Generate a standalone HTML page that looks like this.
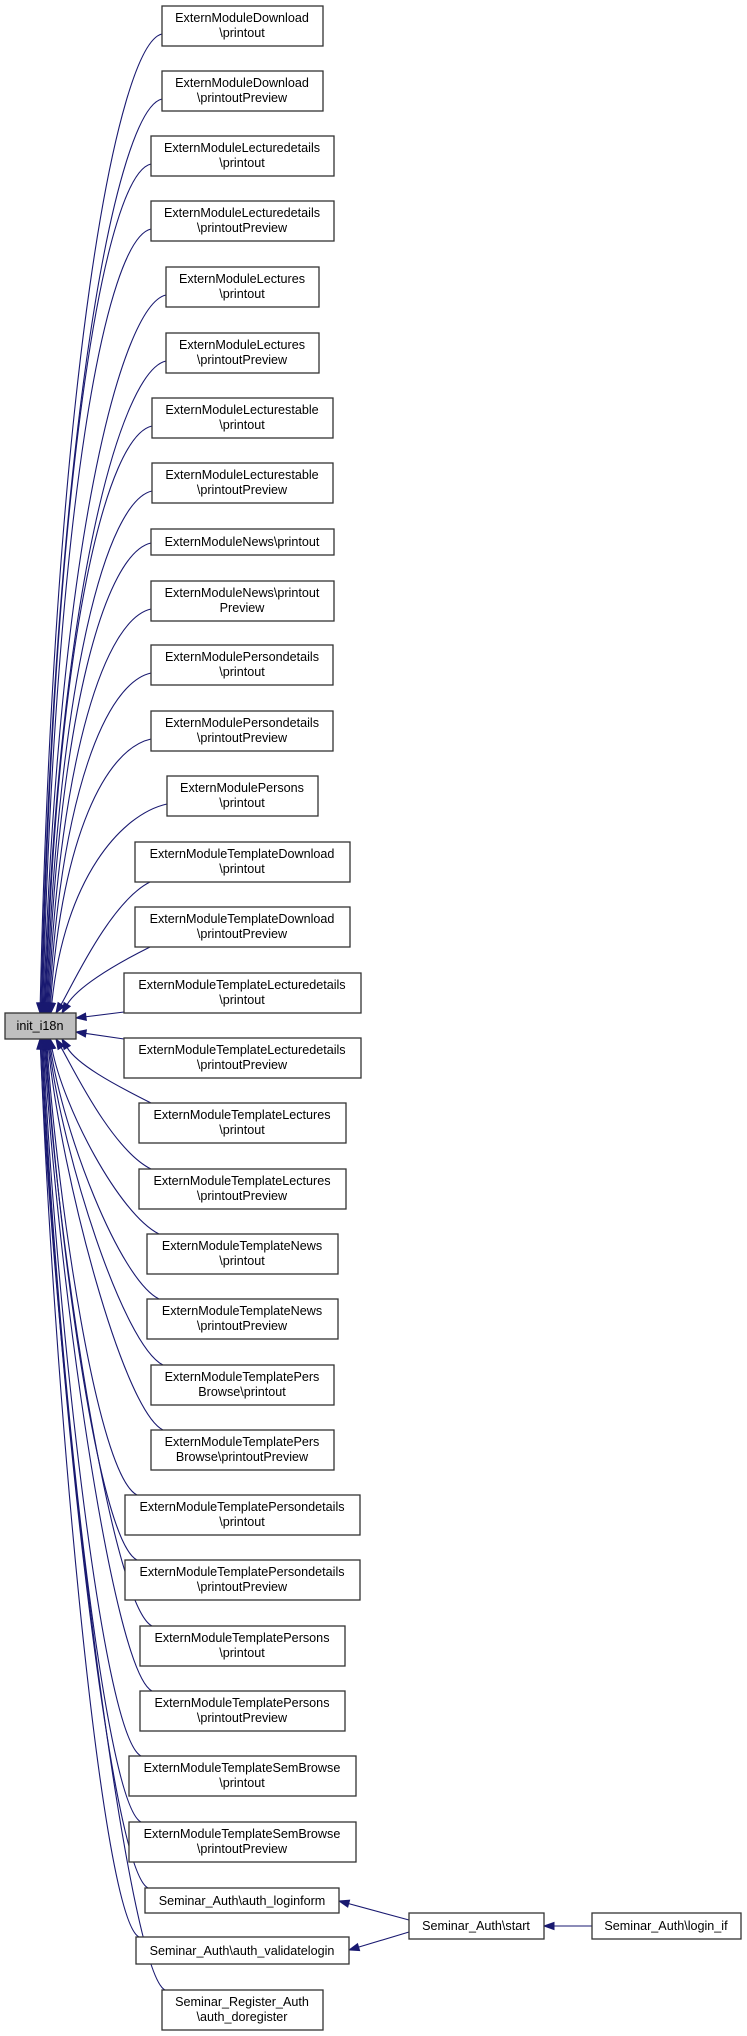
<!DOCTYPE html>
<html><head><meta charset="utf-8"><style>
html,body{margin:0;padding:0;background:#fff;}
svg{display:block;}
text{font-family:"Liberation Sans",Arial,sans-serif;font-size:12.6px;fill:#000;}
</style></head><body>
<svg id="g" width="747" height="2036" viewBox="0 0 747 2036" xmlns="http://www.w3.org/2000/svg">
<g id="edges" fill="none" stroke="#191970" stroke-width="1.1"></g>
<g id="heads" fill="#191970" stroke="#191970"></g>
<g fill="#fff" stroke="#333" stroke-width="1.3">
<rect x="162" y="6" width="161" height="40"/>
<rect x="162" y="71" width="161" height="40"/>
<rect x="151" y="136" width="183" height="40"/>
<rect x="151" y="201" width="183" height="40"/>
<rect x="166" y="267" width="153" height="40"/>
<rect x="166" y="333" width="153" height="40"/>
<rect x="152" y="398" width="181" height="40"/>
<rect x="152" y="463" width="181" height="40"/>
<rect x="151" y="529" width="183" height="26"/>
<rect x="151" y="581" width="183" height="40"/>
<rect x="151" y="645" width="182" height="40"/>
<rect x="151" y="711" width="182" height="40"/>
<rect x="167" y="776" width="151" height="40"/>
<rect x="135" y="842" width="215" height="40"/>
<rect x="135" y="907" width="215" height="40"/>
<rect x="124" y="973" width="237" height="40"/>
<rect x="124" y="1038" width="237" height="40"/>
<rect x="139" y="1103" width="207" height="40"/>
<rect x="139" y="1169" width="207" height="40"/>
<rect x="147" y="1234" width="191" height="40"/>
<rect x="147" y="1299" width="191" height="40"/>
<rect x="151" y="1365" width="183" height="40"/>
<rect x="151" y="1430" width="183" height="40"/>
<rect x="125" y="1495" width="235" height="40"/>
<rect x="125" y="1560" width="235" height="40"/>
<rect x="140" y="1626" width="205" height="40"/>
<rect x="140" y="1691" width="205" height="40"/>
<rect x="129" y="1756" width="227" height="40"/>
<rect x="129" y="1822" width="227" height="40"/>
<rect x="145" y="1888" width="194" height="25"/>
<rect x="136" y="1937" width="213" height="27"/>
<rect x="162" y="1990" width="161" height="40"/>
<rect x="409" y="1913" width="135" height="26"/>
<rect x="592" y="1913" width="149" height="26"/>
<rect x="5" y="1013" width="71" height="26" fill="#bfbfbf"/>
</g>
<g text-anchor="middle">
<text x="242" y="22">ExternModuleDownload</text><text x="242" y="37">\printout</text>
<text x="242" y="87">ExternModuleDownload</text><text x="242" y="102">\printoutPreview</text>
<text x="242" y="152">ExternModuleLecturedetails</text><text x="242" y="167">\printout</text>
<text x="242" y="217">ExternModuleLecturedetails</text><text x="242" y="232">\printoutPreview</text>
<text x="242" y="283">ExternModuleLectures</text><text x="242" y="298">\printout</text>
<text x="242" y="349">ExternModuleLectures</text><text x="242" y="364">\printoutPreview</text>
<text x="242" y="414">ExternModuleLecturestable</text><text x="242" y="429">\printout</text>
<text x="242" y="479">ExternModuleLecturestable</text><text x="242" y="494">\printoutPreview</text>
<text x="242" y="546">ExternModuleNews\printout</text>
<text x="242" y="597">ExternModuleNews\printout</text><text x="242" y="612">Preview</text>
<text x="242" y="661">ExternModulePersondetails</text><text x="242" y="676">\printout</text>
<text x="242" y="727">ExternModulePersondetails</text><text x="242" y="742">\printoutPreview</text>
<text x="242" y="792">ExternModulePersons</text><text x="242" y="807">\printout</text>
<text x="242" y="858">ExternModuleTemplateDownload</text><text x="242" y="873">\printout</text>
<text x="242" y="923">ExternModuleTemplateDownload</text><text x="242" y="938">\printoutPreview</text>
<text x="242" y="989">ExternModuleTemplateLecturedetails</text><text x="242" y="1004">\printout</text>
<text x="242" y="1054">ExternModuleTemplateLecturedetails</text><text x="242" y="1069">\printoutPreview</text>
<text x="242" y="1119">ExternModuleTemplateLectures</text><text x="242" y="1134">\printout</text>
<text x="242" y="1185">ExternModuleTemplateLectures</text><text x="242" y="1200">\printoutPreview</text>
<text x="242" y="1250">ExternModuleTemplateNews</text><text x="242" y="1265">\printout</text>
<text x="242" y="1315">ExternModuleTemplateNews</text><text x="242" y="1330">\printoutPreview</text>
<text x="242" y="1381">ExternModuleTemplatePers</text><text x="242" y="1396">Browse\printout</text>
<text x="242" y="1446">ExternModuleTemplatePers</text><text x="242" y="1461">Browse\printoutPreview</text>
<text x="242" y="1511">ExternModuleTemplatePersondetails</text><text x="242" y="1526">\printout</text>
<text x="242" y="1576">ExternModuleTemplatePersondetails</text><text x="242" y="1591">\printoutPreview</text>
<text x="242" y="1642">ExternModuleTemplatePersons</text><text x="242" y="1657">\printout</text>
<text x="242" y="1707">ExternModuleTemplatePersons</text><text x="242" y="1722">\printoutPreview</text>
<text x="242" y="1772">ExternModuleTemplateSemBrowse</text><text x="242" y="1787">\printout</text>
<text x="242" y="1838">ExternModuleTemplateSemBrowse</text><text x="242" y="1853">\printoutPreview</text>
<text x="242" y="1905">Seminar_Auth\auth_loginform</text>
<text x="242" y="1955">Seminar_Auth\auth_validatelogin</text>
<text x="242" y="2006">Seminar_Register_Auth</text><text x="242" y="2021">\auth_doregister</text>
<text x="476" y="1930">Seminar_Auth\start</text>
<text x="666" y="1930">Seminar_Auth\login_if</text>
<text x="40" y="1030">init_i18n</text>
</g>
</svg>
<script>
var B=[[6,162,40],[71,162,40],[136,151,40],[201,151,40],[267,166,40],[333,166,40],[398,152,40],[463,152,40],[529,151,26],[581,151,40],[645,151,40],[711,151,40],[776,167,40],[842,135,40],[907,135,40],[973,124,40],[1038,124,40],[1103,139,40],[1169,139,40],[1234,147,40],[1299,147,40],[1365,151,40],[1430,151,40],[1495,125,40],[1560,125,40],[1626,140,40],[1691,140,40],[1756,129,40],[1822,129,40],[1888,145,25],[1937,136,27],[1990,162,40]];
var E=document.getElementById('edges'),H=document.getElementById('heads');
function head(cx,cy,ex,ey){var dx=ex-cx,dy=ey-cy,l=Math.hypot(dx,dy)||1;dx/=l;dy/=l;var L=10,W=3.6;var bx=ex-dx*L,by=ey-dy*L;
var p=document.createElementNS('http://www.w3.org/2000/svg','polygon');p.setAttribute('points',ex+','+ey+' '+(bx-dy*W)+','+(by+dx*W)+' '+(bx+dy*W)+','+(by-dx*W));H.appendChild(p);return [bx,by];}
function path(d){var p=document.createElementNS('http://www.w3.org/2000/svg','path');p.setAttribute('d',d);E.appendChild(p);}
B.forEach(function(b,i){var y=b[0],x=b[1],h=b[2];
 if(i==15){var hb=head(124,1012,76,1018);path('M124,1012 L'+hb[0]+','+hb[1]);return;}
 if(i==16){var hb=head(124,1039,76,1032);path('M124,1039 L'+hb[0]+','+hb[1]);return;}
 if(i<15){var xs=x,ys=y+h-12;if(i>=13){xs=x+15;ys=y+h;}
  var xe=i>=13?(i==14?62:56):40+i*0.9,ye=1013;
  var c1x=xs-45,c1y=ys+10;if(i>=13){c1x=xs-40;c1y=ys+20;}
  var c2x=xe+(xs-xe)*0.12,c2y=ys+(ye-ys)*0.35;if(i>=13){c2x=xe+15;c2y=ye-25;}
  var hb=head(c2x,c2y,xe,ye);path('M'+xs+','+ys+' C'+c1x+','+c1y+' '+c2x+','+c2y+' '+hb[0]+','+hb[1]);}
 else{var xs=x+12,ys=y;if(i>=29)xs=x+3;
  var k=i-17;var xe=i<=18?(i==17?62:56):Math.max(40,52-k*0.9),ye=1039;
  var c1x=xs-40,c1y=ys-20;var c2x=xe+(xs-xe)*0.12,c2y=ye+(ys-ye)*0.35;if(i<=18){c2x=xe+15;c2y=ye+25;}
  var hb=head(c2x,c2y,xe,ye);path('M'+xs+','+ys+' C'+c1x+','+c1y+' '+c2x+','+c2y+' '+hb[0]+','+hb[1]);}
});
var hb=head(409,1920,339,1901);path('M409,1920 L'+hb[0]+','+hb[1]);
hb=head(409,1932,349,1950);path('M409,1932 L'+hb[0]+','+hb[1]);
hb=head(592,1926,544,1926);path('M592,1926 L'+hb[0]+','+hb[1]);
</script>
</body></html>
